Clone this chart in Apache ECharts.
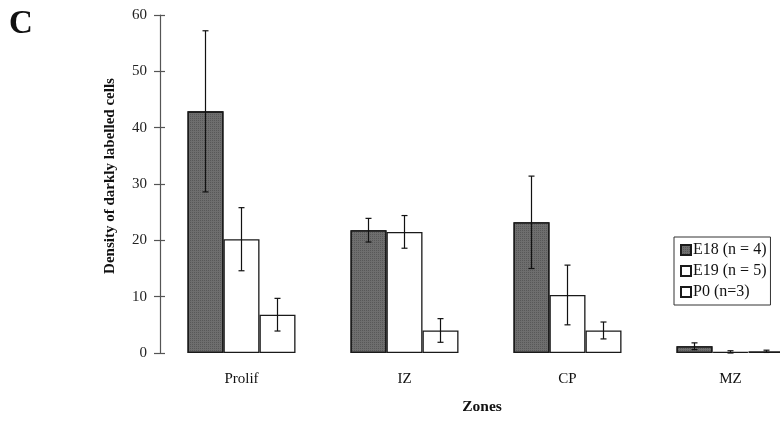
<!DOCTYPE html>
<html><head><meta charset="utf-8">
<script src="https://cdn.jsdelivr.net/npm/echarts@6/dist/echarts.min.js"></script>
<style>html,body{margin:0;padding:0;background:#fff;overflow:hidden;}#c{width:812px;height:422px;}</style>
</head><body><div id="c"></div>
<script>
const categories = ['Prolif', 'IZ', 'CP', 'MZ'];
const seriesNames = ['E18 (n = 4)', 'E19 (n = 5)', 'P0 (n=3)'];
const e18 = [42.9, 21.8, 23.2, 1.2];
const e18Err = [14.3, 2.1, 8.2, 0.6];
const e19 = [20.2, 21.5, 10.3, 0.2];
const e19Err = [5.6, 2.9, 5.3, 0.2];
const p0 = [6.8, 4.0, 4.0, 0.3];
const p0Err = [2.9, 2.1, 1.5, 0.2];
const yTicks = [0, 10, 20, 30, 40, 50, 60];

const FONT = 'Liberation Serif';
const BW = 36;
const means = [e18, e19, p0];
const errs = [e18Err, e19Err, p0Err];
const fills = ['#6e6e6e', '#ffffff', '#ffffff'];

const chart = echarts.init(document.getElementById('c'), null, {renderer: 'canvas'});

function errSeries(k) {
  const offset = (k - 1) * BW;
  return {
    type: 'custom',
    name: seriesNames[k] + ' err',
    z: 5,
    data: categories.map((c, i) => [i, means[k][i], errs[k][i]]),
    renderItem: function (params, api) {
      const i = api.value(0), m = api.value(1), e = api.value(2);
      const top = api.coord([i, m + e]);
      const bot = api.coord([i, Math.max(m - e, 0)]);
      const x = top[0] + offset;
      const cap = 3;
      const st = {stroke: '#111', lineWidth: 1.2};
      return {type: 'group', children: [
        {type: 'line', shape: {x1: x, y1: top[1], x2: x, y2: bot[1]}, style: st},
        {type: 'line', shape: {x1: x - cap, y1: top[1], x2: x + cap, y2: top[1]}, style: st},
        {type: 'line', shape: {x1: x - cap, y1: bot[1], x2: x + cap, y2: bot[1]}, style: st}
      ]};
    },
    silent: true
  };
}

const barSeries = means.map((d, k) => {
  const itemStyle = {color: fills[k], borderColor: '#1a1a1a', borderWidth: 1.3};
  if (k === 0) {
    itemStyle.decal = {symbol: 'rect', symbolSize: 1, dashArrayX: [1, 1], dashArrayY: [1, 1], color: 'rgba(50,50,50,0.35)'};
  }
  return {
    type: 'bar',
    name: seriesNames[k],
    data: d,
    barWidth: BW,
    barGap: '0%',
    itemStyle: itemStyle,
    emphasis: {disabled: true}
  };
});

chart.setOption({
  animation: false,
  textStyle: {fontFamily: FONT},
  title: {
    text: 'C', left: 4, top: 3,
    textStyle: {fontFamily: FONT, fontSize: 33, fontWeight: 'bold', color: '#111'}
  },
  grid: {left: 160, top: 15, bottom: 69, right: 0, containLabel: false},
  legend: {
    data: seriesNames,
    orient: 'vertical',
    left: 674, top: 237,
    padding: [5, 4, 5, 6],
    itemGap: 5,
    itemWidth: 10, itemHeight: 10,
    borderColor: '#333', borderWidth: 1,
    backgroundColor: '#fff',
    icon: 'rect',
    textStyle: {fontFamily: FONT, fontSize: 16, color: '#111', padding: [0, 0, 0, -3]},
    selectedMode: false
  },
  xAxis: {
    type: 'category',
    data: categories,
    boundaryGap: true,
    axisLine: {show: false},
    axisTick: {show: false},
    axisLabel: {fontFamily: FONT, fontSize: 15, color: '#111', margin: 19},
    name: 'Zones',
    nameLocation: 'middle',
    nameGap: 46,
    nameTextStyle: {fontFamily: FONT, fontSize: 15.5, fontWeight: 'bold', color: '#111', padding: [0, 8, 0, 0]}
  },
  yAxis: [{
    type: 'value', min: 0, max: 60, interval: 10,
    axisLine: {show: true, lineStyle: {color: '#555', width: 1.2}},
    axisTick: {show: true, length: 6, lineStyle: {color: '#555', width: 1.2}},
    splitLine: {show: false},
    axisLabel: {fontFamily: FONT, fontSize: 15, color: '#222', margin: 13,
      formatter: v => yTicks.includes(v) ? String(v) : ''},
    name: 'Density of darkly labelled cells',
    nameLocation: 'middle',
    nameRotate: 90,
    nameGap: 42,
    nameTextStyle: {fontFamily: FONT, fontSize: 15, fontWeight: 'bold', color: '#111', padding: [0, 0, 0, 16]}
  }, {
    type: 'value', min: 0, max: 60, interval: 10, position: 'left', offset: 0,
    axisLine: {show: false},
    axisTick: {show: true, inside: true, length: 5, lineStyle: {color: '#555', width: 1.2}},
    axisLabel: {show: false},
    splitLine: {show: false}
  }],
  series: barSeries.concat([errSeries(0), errSeries(1), errSeries(2)])
});
</script>
</body></html>
